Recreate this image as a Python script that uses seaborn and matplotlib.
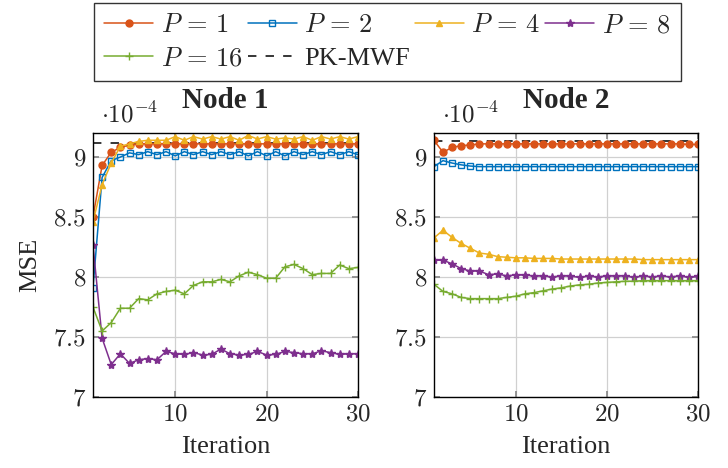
import numpy as np
import pandas as pd
import matplotlib
matplotlib.use('Agg')
import matplotlib.pyplot as plt
import seaborn as sns

# iterations
iters = list(range(1, 31))

# node 1 MSE values (x 1e-4)
n1_p1 = [8.50, 8.93, 9.04, 9.08, 9.10, 9.11, 9.11, 9.11, 9.11, 9.11, 9.11, 9.11, 9.11, 9.11, 9.11,
         9.11, 9.11, 9.11, 9.11, 9.11, 9.11, 9.11, 9.11, 9.11, 9.11, 9.11, 9.11, 9.11, 9.11, 9.11]
n1_p2 = [7.91, 8.83, 8.97, 9.00, 9.035, 9.02, 9.045, 9.02, 9.045, 9.01, 9.045, 9.02, 9.045, 9.02, 9.045,
         9.02, 9.045, 9.01, 9.045, 9.01, 9.045, 9.01, 9.045, 9.02, 9.045, 9.02, 9.045, 9.02, 9.045, 9.02]
n1_p4 = [8.46, 8.77, 8.95, 9.09, 9.11, 9.13, 9.14, 9.14, 9.14, 9.17, 9.14, 9.17, 9.15, 9.17, 9.15,
         9.17, 9.14, 9.18, 9.15, 9.17, 9.15, 9.16, 9.15, 9.17, 9.14, 9.17, 9.15, 9.17, 9.15, 9.17]
n1_p8 = [8.27, 7.49, 7.27, 7.36, 7.28, 7.31, 7.32, 7.31, 7.38, 7.36, 7.355, 7.37, 7.35, 7.355, 7.40,
         7.36, 7.35, 7.355, 7.38, 7.35, 7.355, 7.38, 7.37, 7.36, 7.36, 7.385, 7.37, 7.355, 7.36, 7.36]
n1_p16 = [7.75, 7.55, 7.62, 7.74, 7.74, 7.82, 7.81, 7.86, 7.88, 7.89, 7.86, 7.93, 7.96, 7.96, 7.98,
          7.96, 8.01, 8.04, 8.02, 7.99, 7.99, 8.085, 8.105, 8.07, 8.02, 8.03, 8.03, 8.10, 8.07, 8.08]
n1_pk = 9.115

# node 2 MSE values (x 1e-4)
n2_p1 = [9.14, 9.04, 9.08, 9.095, 9.10, 9.11, 9.11, 9.11, 9.11, 9.11, 9.11, 9.11, 9.11, 9.11, 9.11,
         9.11, 9.11, 9.11, 9.11, 9.11, 9.11, 9.11, 9.11, 9.11, 9.11, 9.11, 9.11, 9.11, 9.105, 9.105]
n2_p2 = [8.92, 8.97, 8.95, 8.935, 8.925, 8.92, 8.92, 8.92, 8.92, 8.92, 8.92, 8.92, 8.92, 8.92, 8.92,
         8.92, 8.92, 8.92, 8.92, 8.92, 8.92, 8.92, 8.92, 8.92, 8.92, 8.92, 8.92, 8.92, 8.92, 8.92]
n2_p4 = [8.325, 8.39, 8.33, 8.28, 8.24, 8.20, 8.19, 8.17, 8.165, 8.16, 8.16, 8.155, 8.155, 8.155, 8.15,
         8.15, 8.15, 8.15, 8.15, 8.15, 8.15, 8.15, 8.15, 8.145, 8.145, 8.145, 8.145, 8.145, 8.145, 8.145]
n2_p8 = [8.14, 8.14, 8.11, 8.07, 8.05, 8.05, 8.02, 8.025, 8.01, 8.017, 8.017, 8.008, 8.01, 8.00, 8.01,
         8.008, 7.997, 8.008, 8.00, 8.01, 8.008, 8.01, 7.997, 8.01, 8.00, 8.01, 8.00, 8.01, 7.997, 8.008]
n2_p16 = [7.94, 7.88, 7.86, 7.83, 7.82, 7.82, 7.82, 7.82, 7.83, 7.84, 7.86, 7.87, 7.885, 7.90, 7.91,
          7.925, 7.935, 7.94, 7.95, 7.955, 7.96, 7.965, 7.965, 7.97, 7.97, 7.97, 7.97, 7.97, 7.97, 7.97]
n2_pk = 9.13

labels = [r'$P\,=\,1$', r'$P\,=\,2$', r'$P\,=\,4$', r'$P\,=\,8$', r'$P\,=\,16$']
colors = ['#D95319', '#0072BD', '#EDB120', '#7E2F8E', '#77AC30']
markers = ['o', 's', '^', '*', '+']
yticks = [7, 7.5, 8, 8.5, 9]
xticks = [10, 20, 30]

sns.set_theme(style="whitegrid")
plt.rcParams['font.family'] = ['Liberation Serif', 'DejaVu Serif']
plt.rcParams['mathtext.fontset'] = 'cm'

fig = plt.figure(figsize=(7.28, 4.68), dpi=100)
ax1 = fig.add_axes([0.1277, 0.1517, 0.364, 0.564])
ax2 = fig.add_axes([0.596, 0.1517, 0.3626, 0.564])

nodes = [(ax1, [n1_p1, n1_p2, n1_p4, n1_p8, n1_p16], n1_pk, 'Node 1'),
         (ax2, [n2_p1, n2_p2, n2_p4, n2_p8, n2_p16], n2_pk, 'Node 2')]

for ax, series, pk, title in nodes:
    ax.axhline(pk, color='black', ls=(0, (5.5, 6)), lw=1.1, label='PK-MWF', zorder=1)
    for vals, lab, col, mk in zip(series, labels, colors, markers):
        mfc = 'none' if mk == 's' else col
        ms = {'o': 5, 's': 4.5, '^': 4.5, '*': 6, '+': 5.5}[mk]
        sns.lineplot(x=iters, y=vals, ax=ax, color=col, marker=mk, markersize=ms,
                     markerfacecolor=mfc, markeredgecolor=col, markeredgewidth=1.0,
                     lw=1.1, label=lab, legend=False)
    ax.set_xlim(1, 30)
    ax.set_ylim(7, 9.2)
    ax.set_xticks(xticks)
    ax.set_xticklabels(['$%d$' % t for t in xticks], fontsize=18)
    ax.set_yticks(yticks)
    ax.set_yticklabels(['$%g$' % t for t in yticks], fontsize=18)
    ax.grid(True, color='#d0d0d0', lw=0.9)
    for s in ax.spines.values():
        s.set_color('black')
        s.set_linewidth(1.0)
    ax.tick_params(direction='in', length=4, color='#888888', top=True, right=True,
                   bottom=True, left=True, pad=5)
    ax.set_title(title, fontsize=21, fontweight='bold', pad=18)
    ax.set_xlabel('Iteration', fontsize=19, labelpad=7)
    ax.text(0.03, 1.02, r'$\cdot 10^{-4}$', transform=ax.transAxes, fontsize=18,
            ha='left', va='bottom')

ax1.set_ylabel('MSE', fontsize=19, labelpad=9)
ax2.set_ylabel('')

h, l = ax1.get_legend_handles_labels()
hd = dict(zip(l, h))
order = [labels[0], labels[4], labels[1], 'PK-MWF', labels[2], labels[3]]
leg = fig.legend([hd[k] for k in order], order, ncol=4, loc='upper left',
                 bbox_to_anchor=(0.129, 0.993), borderaxespad=0, fontsize=19, frameon=True,
                 fancybox=False, edgecolor='black', handlelength=1.85,
                 handletextpad=0.28, columnspacing=0.2, borderpad=0.4, labelspacing=0.35)
leg.get_frame().set_linewidth(1.0)

fig.savefig('out.png', dpi=100)
